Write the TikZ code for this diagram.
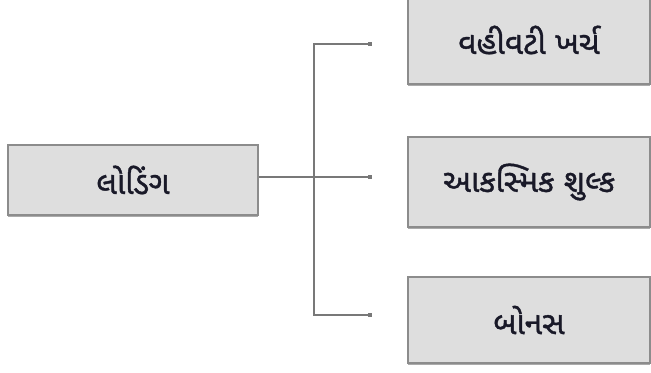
\documentclass[tikz,border=0pt]{standalone}
\usepackage{fontspec}
\newfontfamily\gujfont[Script=Gujarati,FakeBold=1.2]{Noto Sans Gujarati UI}
\usetikzlibrary{arrows.meta,shadows}
\definecolor{boxfill}{RGB}{222,222,222}
\definecolor{boxline}{RGB}{140,140,140}
\definecolor{linkgray}{RGB}{120,120,120}
\definecolor{inktext}{RGB}{25,25,40}

\begin{document}
\begin{tikzpicture}[x=0.03cm,y=-0.03cm,
    every node/.style={font=\gujfont\fontsize{27}{31}\selectfont,text=inktext},
    itembox/.style={draw=boxline,line width=0.9pt,fill=boxfill,
        inner sep=0pt,
        drop shadow={shadow xshift=0pt,shadow yshift=-2pt,opacity=0.6,fill=black!55}},
    link/.style={draw=linkgray,line width=1.4pt,
        -{Square[length=3.2pt,width=3.2pt,fill=black!75]}}]
\useasboundingbox (0,0) rectangle (651,373);

% boxes
\node[itembox,minimum width=250*0.03cm,minimum height=70*0.03cm] (lod) at (133,180) {લોડિંગ};
\node[itembox,minimum width=242*0.03cm,minimum height=88*0.03cm] (adm) at (529,40) {વહીવટી ખર્ચ};
\node[itembox,minimum width=242*0.03cm,minimum height=90*0.03cm] (cont) at (529,182) {આકસ્મિક શુલ્ક};
\node[itembox,minimum width=242*0.03cm,minimum height=86*0.03cm] (bon) at (529,320) {બોનસ};

% connectors
\coordinate (fork) at (314,177);
\coordinate (toptip) at (372,44);
\coordinate (midtip) at (372,177);
\coordinate (bottip) at (372,315);
\draw[link] (lod.east |- fork) -- (midtip);
\draw[link] (fork) |- (toptip);
\draw[link] (fork) |- (bottip);
\end{tikzpicture}
\end{document}
